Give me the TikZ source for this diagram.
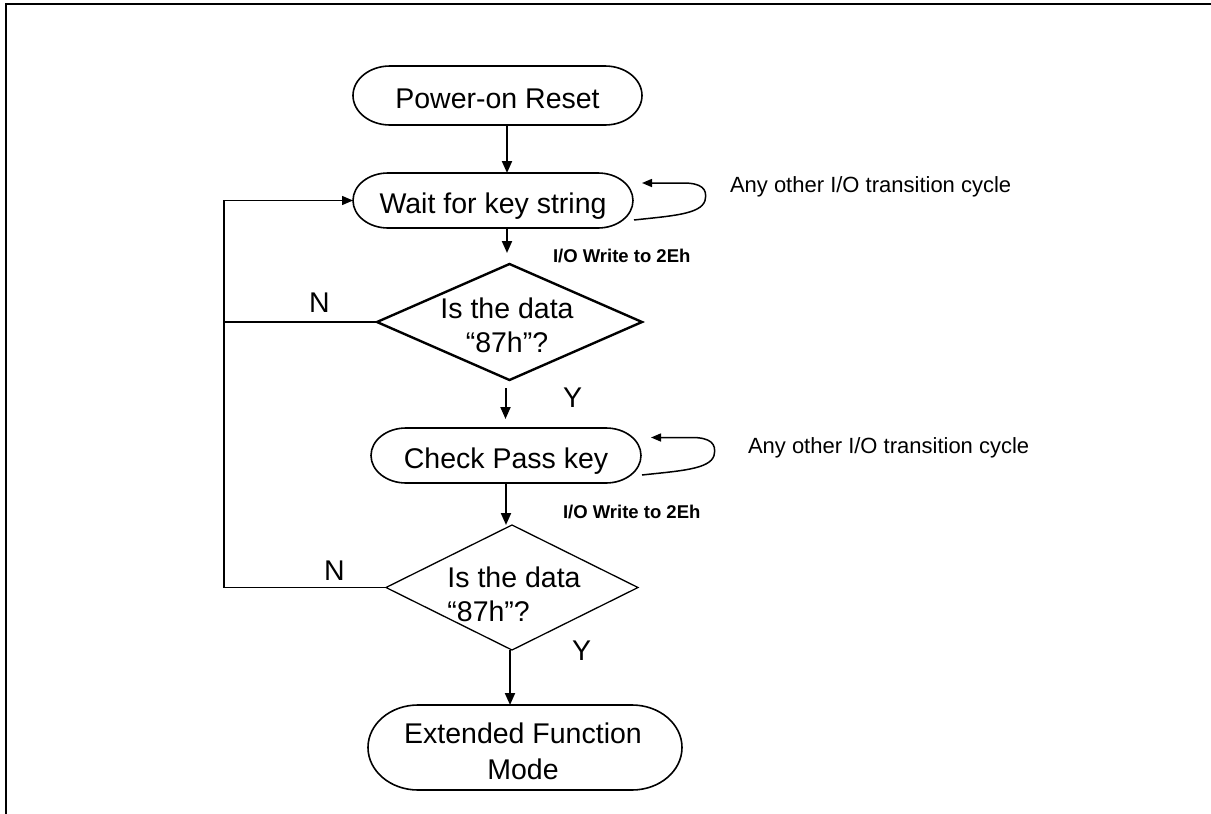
\documentclass[tikz,border=0pt]{standalone}
\usepackage{fontspec}
\setmainfont{Liberation Sans}
\usetikzlibrary{shapes.geometric,arrows.meta}
\newcommand{\stadium}[3]{%
  \draw[boxline] ([xshift=#2pt]#1.north west) -- ([xshift=-#2pt]#1.north east)
    arc[start angle=90,end angle=-90,x radius=#2pt,y radius=#3pt]
    -- ([xshift=#2pt]#1.south west)
    arc[start angle=270,end angle=90,x radius=#2pt,y radius=#3pt] -- cycle;}
\begin{document}
\begin{tikzpicture}[x=1pt,y=-1pt,
  every node/.style={inner sep=0pt,outer sep=0pt,font=\fontsize{28.5}{34}\selectfont},
  boxtext/.style={text height=25pt,text depth=0pt},
  boxline/.style={line width=1.6pt},
  arr/.style={line width=2pt,-{Triangle[length=12pt,width=10pt]}},
  loopline/.style={line width=1.5pt,-{Triangle[length=10pt,width=8pt]}},
  backline/.style={line width=1.3pt},
  note/.style={font=\fontsize{22}{26}\selectfont},
  wlabel/.style={font=\fontsize{18.5}{22}\selectfont\bfseries}]
\useasboundingbox (0,0) rectangle (1211,814);
% frame
\draw[line width=2pt] (6,814) -- (6,3.5) -- (1211,3.5);

% boxes
\node[boxtext,minimum width=289pt,minimum height=59pt] (por) at (497.5,95.5) {Power-on Reset};
\stadium{por}{37}{29.5}
\node[boxtext,minimum width=280pt,minimum height=55pt] (wait) at (493,200.5) {Wait for key string};
\stadium{wait}{35}{27.5}
\node[draw,shape=diamond,line width=2.4pt,minimum width=265pt,minimum height=116pt] (d1) at (509.5,322) {};
\node[align=center] (d1t) at (507,325) {Is the data\\“87h”?};
\node[boxtext,minimum width=270pt,minimum height=55pt] (check) at (506,455.5) {Check Pass key};
\stadium{check}{35}{27.5}
\node[draw,shape=diamond,line width=1.3pt,minimum width=252pt,minimum height=125pt] (d2) at (512,587.5) {};
\node[align=left] (d2t) at (514,594) {Is the data\\“87h”?};
\node[minimum width=314pt,minimum height=85pt] (ext) at (525,747.5) {};
\stadium{ext}{50}{42.5}
\node[align=center,font=\fontsize{28.5}{36}\selectfont] (extt) at (523,751) {Extended Function\\Mode};

% labels
\node[anchor=base west] (n1) at (309,312) {N};
\node[anchor=base west] (n2) at (324,580) {N};
\node[anchor=base west] (y1) at (563,407) {Y};
\node[anchor=base west] (y2) at (572,660) {Y};
\node[wlabel,anchor=base west] (w1) at (553,262) {I/O Write to 2Eh};
\node[wlabel,anchor=base west] (w2) at (563,518) {I/O Write to 2Eh};
\node[note,anchor=base west] (o1) at (730,192) {Any other I/O transition cycle};
\node[note,anchor=base west] (o2) at (748,453) {Any other I/O transition cycle};

% vertical arrows
\coordinate (ax1) at (507,0);
\coordinate (ax2) at (505.5,0);
\coordinate (ax3) at (506,0);
\coordinate (ax4) at (510,0);
\coordinate (lx) at (224,0);
\draw[arr] (por.south -| ax1) -- (wait.north -| ax1);
\draw[arr,shorten >=11pt] (wait.south -| ax1) -- (d1.north -| ax1);
\draw[arr,shorten <=8pt,shorten >=9pt] (d1.south -| ax2) -- (check.north -| ax2);
\draw[arr] (check.south -| ax3) -- (d2.north -| ax3);
\draw[arr] (d2.south -| ax4) -- (ext.north -| ax4);

% loop back (N)
\draw[backline] (d2.west) -- (d2.west -| lx) -- (d1.west -| lx);
\draw[backline,-{Triangle[length=11pt,width=9pt]}] (d1.west) -- (d1.west -| lx) |- (wait.west);

% self loops
\draw[loopline] ([shift={(1,19.5)}]wait.east) .. controls +(36,-4) and +(-4,14) .. ([shift={(72,0)}]wait.east)
  .. controls +(3,-12) and +(18,0) .. ([shift={(50,-17.5)}]wait.east) -- ([shift={(9,-17.5)}]wait.east);
\draw[loopline] ([shift={(1,19.5)}]check.east) .. controls +(36,-4) and +(-4,14) .. ([shift={(73,0)}]check.east)
  .. controls +(3,-12) and +(18,0) .. ([shift={(51,-18)}]check.east) -- ([shift={(10,-18)}]check.east);
\end{tikzpicture}
\end{document}
